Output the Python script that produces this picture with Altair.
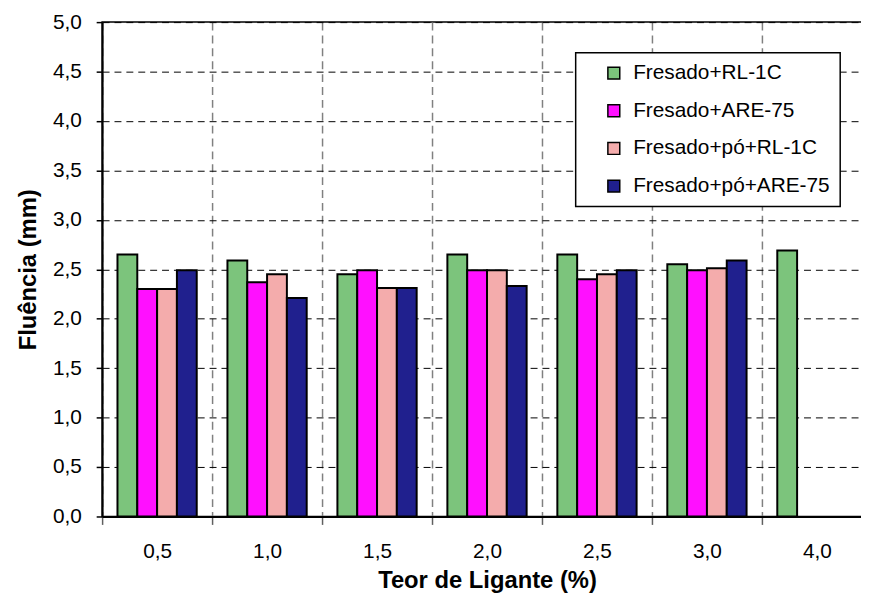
import altair as alt
import pandas as pd

teor = ["0,5", "1,0", "1,5", "2,0", "2,5", "3,0", "4,0"]
series = ["Fresado+RL-1C", "Fresado+ARE-75", "Fresado+pó+RL-1C", "Fresado+pó+ARE-75"]
rl1c = [2.65, 2.59, 2.45, 2.65, 2.65, 2.55, 2.69]
are75 = [2.30, 2.37, 2.49, 2.49, 2.40, 2.49, None]
po_rl1c = [2.30, 2.45, 2.31, 2.49, 2.45, 2.51, None]
po_are75 = [2.49, 2.21, 2.31, 2.33, 2.49, 2.59, None]
colors = ["#7cc47c", "#ff10ff", "#f4acac", "#20208e"]
y_ticks = [0, 0.5, 1, 1.5, 2, 2.5, 3, 3.5, 4, 4.5, 5]

rows = []
for name, vals in zip(series, [rl1c, are75, po_rl1c, po_are75]):
    for t, v in zip(teor, vals):
        if v is not None:
            rows.append({"teor": t, "serie": name, "valor": v})
df = pd.DataFrame(rows)

FONT = "Liberation Sans"

chart = alt.Chart(df).mark_bar(stroke="black", strokeWidth=2).encode(
    x=alt.X(
        "teor:N", sort=teor,
        scale=alt.Scale(paddingInner=0, paddingOuter=0),
        axis=alt.Axis(
            title="Teor de Ligante (%)", labelAngle=0, tickBand="extent",
            grid=True, gridDash=[8, 5], gridColor="#808080", gridWidth=1.5,
            tickSize=8, tickColor="#606060", tickWidth=1.5,
            domainColor="black", domainWidth=2,
            labelFontSize=21, labelPadding=16, labelColor="black",
            titleFontSize=24, titleFontWeight="bold", titlePadding=8, titleColor="black",
        ),
    ),
    xOffset=alt.XOffset("serie:N", sort=series,
                        scale=alt.Scale(paddingInner=0, paddingOuter=0.775)),
    y=alt.Y(
        "valor:Q",
        scale=alt.Scale(domain=[0, 5]),
        axis=alt.Axis(
            values=y_ticks,
            labelExpr="replace(format(datum.value, '.1f'), '.', ',')",
            title="Fluência (mm)",
            grid=True, gridDash=[7, 5], gridColor="black", gridWidth=1,
            tickSize=6, tickColor="black", tickWidth=1.5,
            domainColor="black", domainWidth=2,
            labelFontSize=21, labelPadding=15, labelColor="black",
            titleFontSize=24, titleFontWeight="bold", titlePadding=12, titleColor="black",
        ),
    ),
    color=alt.Color(
        "serie:N", sort=series,
        scale=alt.Scale(domain=series, range=colors),
        legend=alt.Legend(
            title=None, orient="none", legendX=478, legendY=31,
            symbolType="square", symbolSize=144, symbolStrokeColor="black",
            symbolStrokeWidth=1.5, symbolOffset=18, labelOffset=9,
            labelFontSize=21, labelFont=FONT, labelColor="black", labelLimit=400,
            rowPadding=16, padding=10, strokeColor="black", fillColor="white",
        ),
    ),
).properties(
    width=777, height=499,
    autosize=alt.AutoSizeParams(type="none"),
    padding={"left": 95, "top": 11.5, "right": -11, "bottom": 76},
).configure_axis(
    labelFont=FONT, titleFont=FONT,
).configure_legend(
    strokeWidth=1.5,
).configure_view(
    stroke="black", strokeWidth=1.5,
)

chart.save("out.html", embed_options={"renderer": "svg", "actions": False})
